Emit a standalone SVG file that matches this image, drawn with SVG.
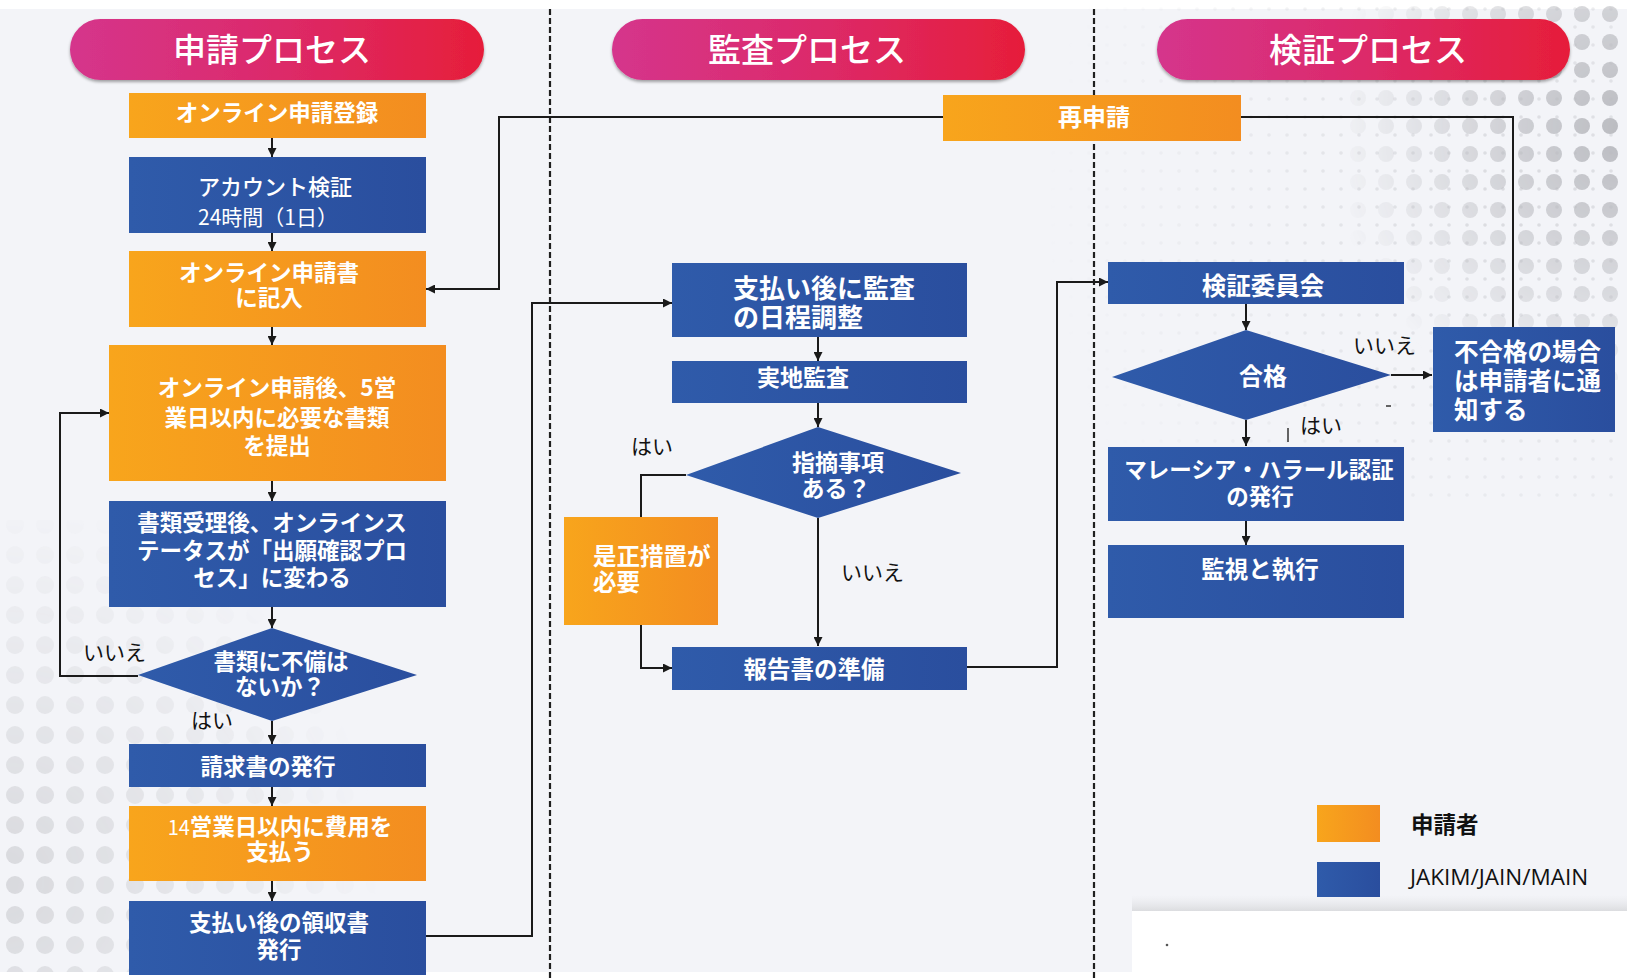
<svg xmlns="http://www.w3.org/2000/svg" width="1627" height="978" viewBox="0 0 1627 978">
<defs>
<style>
.t{font-family:"Noto Sans CJK JP","Noto Sans",sans-serif;fill:#fff;font-weight:700}
.r{font-weight:400}
.md{font-weight:500}
.ttl{font-family:"Noto Sans CJK JP","Noto Sans",sans-serif;fill:#fff;font-weight:500;font-size:33px;text-anchor:middle}
.lbl{font-family:"Noto Sans CJK JP","Noto Sans",sans-serif;fill:#111;font-weight:400;font-size:21px}
.c{stroke:#1a1a1a;stroke-width:2;fill:none}
.m{text-anchor:middle}
.or{fill:url(#gOr)}
.bl{fill:url(#gBl)}
.pill{fill:url(#gPill);filter:url(#sh)}
.div{stroke:#1f1f1f;stroke-width:2.2;stroke-dasharray:6 3;fill:none}
</style>
<linearGradient id="gOr" x1="0" y1="0" x2="1" y2="0"><stop offset="0" stop-color="#F8A51C"/><stop offset="1" stop-color="#F38D20"/></linearGradient>
<linearGradient id="gBl" x1="0" y1="0" x2="1" y2="0"><stop offset="0" stop-color="#2F5BAA"/><stop offset="1" stop-color="#2A4E9E"/></linearGradient>
<linearGradient id="gPill" x1="0" y1="0" x2="1" y2="0"><stop offset="0" stop-color="#D5358C"/><stop offset="0.5" stop-color="#DC2A6A"/><stop offset="1" stop-color="#E61E3A"/></linearGradient>
<filter id="sh" x="-5%" y="-20%" width="110%" height="150%"><feDropShadow dx="0" dy="2" stdDeviation="1.5" flood-color="#000" flood-opacity="0.35"/></filter>
<marker id="ah" viewBox="0 0 10 10" refX="10" refY="5" markerWidth="9" markerHeight="9" markerUnits="userSpaceOnUse" orient="auto"><path d="M0,0 L10,5 L0,10 z" fill="#1a1a1a"/></marker>
<pattern id="dotsBig" width="28" height="28" patternUnits="userSpaceOnUse"><circle cx="14" cy="14" r="8" fill="#b9babf"/></pattern>
<pattern id="dotsSmall" width="18" height="18" patternUnits="userSpaceOnUse"><circle cx="9" cy="9" r="1.8" fill="#c8c9ce"/></pattern>
<pattern id="dotsBL" width="30" height="30" patternUnits="userSpaceOnUse"><circle cx="15" cy="15" r="9" fill="#d3d4d8"/></pattern>
<radialGradient id="fTR" gradientUnits="userSpaceOnUse" cx="1627" cy="130" r="300"><stop offset="0" stop-color="#fff" stop-opacity="1"/><stop offset="1" stop-color="#fff" stop-opacity="0"/></radialGradient>
<radialGradient id="fTR2" gradientUnits="userSpaceOnUse" cx="1520" cy="200" r="480"><stop offset="0" stop-color="#fff" stop-opacity="0.6"/><stop offset="1" stop-color="#fff" stop-opacity="0"/></radialGradient>
<radialGradient id="fBL" gradientUnits="userSpaceOnUse" cx="0" cy="880" r="380"><stop offset="0" stop-color="#fff" stop-opacity="0.85"/><stop offset="1" stop-color="#fff" stop-opacity="0"/></radialGradient>
<mask id="mTR"><rect x="0" y="0" width="1627" height="978" fill="url(#fTR)"/></mask>
<mask id="mTR2"><rect x="0" y="0" width="1627" height="978" fill="url(#fTR2)"/></mask>
<mask id="mBL"><rect x="0" y="0" width="1627" height="978" fill="url(#fBL)"/></mask>
<linearGradient id="gShadow" x1="0" y1="0" x2="0" y2="1"><stop offset="0" stop-color="#e6e7ea" stop-opacity="0"/><stop offset="1" stop-color="#d9dadd" stop-opacity="1"/></linearGradient>
</defs>

<g id="background">
<rect x="0" y="0" width="1627" height="978" fill="#f3f4f8"/>
<rect x="0" y="0" width="1627" height="9" fill="#ffffff"/>
<rect x="1050" y="0" width="577" height="500" fill="url(#dotsSmall)" mask="url(#mTR2)"/>
<rect x="1340" y="0" width="287" height="380" fill="url(#dotsBig)" mask="url(#mTR)"/>
<rect x="0" y="520" width="440" height="458" fill="url(#dotsBL)" mask="url(#mBL)"/>
<rect x="0" y="972" width="1132" height="6" fill="#ffffff"/>
<rect x="1132" y="895" width="495" height="17" fill="url(#gShadow)"/>
<rect x="1132" y="911" width="495" height="67" fill="#ffffff"/>
<circle cx="1167" cy="945" r="1.3" fill="#555"/>
<line class="div" x1="550" y1="9" x2="550" y2="978"/>
<line class="div" x1="1094" y1="9" x2="1094" y2="978"/>
</g>

<g id="headers">
<g id="h1"><rect class="pill" x="70" y="19" width="414" height="61" rx="30.5"/><text class="ttl" x="272" y="62">申請プロセス</text></g>
<g id="h2"><rect class="pill" x="612" y="19" width="413" height="61" rx="30.5"/><text class="ttl" x="807" y="62">監査プロセス</text></g>
<g id="h3"><rect class="pill" x="1157" y="19" width="413" height="61" rx="30.5"/><text class="ttl" x="1368" y="62">検証プロセス</text></g>
</g>

<g id="connectors">
<line class="c" x1="272" y1="138" x2="272" y2="157" marker-end="url(#ah)"/>
<line class="c" x1="272" y1="233" x2="272" y2="251" marker-end="url(#ah)"/>
<line class="c" x1="272" y1="327" x2="272" y2="345" marker-end="url(#ah)"/>
<line class="c" x1="272" y1="481" x2="272" y2="501" marker-end="url(#ah)"/>
<line class="c" x1="272" y1="607" x2="272" y2="628" marker-end="url(#ah)"/>
<line class="c" x1="272" y1="721" x2="272" y2="744" marker-end="url(#ah)"/>
<line class="c" x1="272" y1="787" x2="272" y2="806" marker-end="url(#ah)"/>
<line class="c" x1="272" y1="881" x2="272" y2="901" marker-end="url(#ah)"/>
<polyline class="c" points="138,676 60,676 60,413 109,413" marker-end="url(#ah)"/>
<polyline class="c" points="943,117 499,117 499,289 426,289" marker-end="url(#ah)"/>
<polyline class="c" points="1241,117 1513,117 1513,327"/>
<polyline class="c" points="426,936 532,936 532,303 672,303" marker-end="url(#ah)"/>
<line class="c" x1="818" y1="337" x2="818" y2="361" marker-end="url(#ah)"/>
<line class="c" x1="818" y1="403" x2="818" y2="427" marker-end="url(#ah)"/>
<polyline class="c" points="686,475 641,475 641,517"/>
<polyline class="c" points="641,625 641,668 672,668" marker-end="url(#ah)"/>
<line class="c" x1="818" y1="518" x2="818" y2="646" marker-end="url(#ah)"/>
<polyline class="c" points="967,667 1057,667 1057,282 1108,282" marker-end="url(#ah)"/>
<line class="c" x1="1246" y1="304" x2="1246" y2="330" marker-end="url(#ah)"/>
<line class="c" x1="1391" y1="375" x2="1432" y2="375" marker-end="url(#ah)"/>
<line class="c" x1="1246" y1="420" x2="1246" y2="446" marker-end="url(#ah)"/>
<line class="c" x1="1246" y1="521" x2="1246" y2="545" marker-end="url(#ah)"/>
<line x1="1386" y1="406" x2="1391" y2="406" stroke="#333" stroke-width="1.5"/>
<line x1="1288" y1="428" x2="1288" y2="442" stroke="#333" stroke-width="1.5"/>
</g>

<g id="labels">
<text class="lbl" x="83" y="660">いいえ</text>
<text class="lbl" x="191" y="728">はい</text>
<text class="lbl" x="631" y="454">はい</text>
<text class="lbl" x="841" y="580">いいえ</text>
<text class="lbl" x="1353" y="353">いいえ</text>
<text class="lbl" x="1300" y="433">はい</text>
</g>

<g id="n_register"><rect class="or" x="129" y="93" width="297" height="45"/><text class="t m" x="277" y="121" font-size="22.5">オンライン申請登録</text></g>
<g id="n_account"><rect class="bl" x="129" y="157" width="297" height="76"/><text class="t md" x="198" y="194.5" font-size="22">アカウント検証<tspan class="r" x="198" dy="30" font-size="21">24時間（1日）</tspan></text></g>
<g id="n_fill"><rect class="or" x="129" y="251" width="297" height="76"/><text class="t m" x="269" y="281" font-size="22.5">オンライン申請書<tspan x="269" dy="25">に記入</tspan></text></g>
<g id="n_submit"><rect class="or" x="109" y="345" width="337" height="136"/><text class="t m" x="277" y="396" font-size="22.5">オンライン申請後、5営<tspan x="277" dy="30">業日以内に必要な書類</tspan><tspan x="277" dy="28">を提出</tspan></text></g>
<g id="n_status"><rect class="bl" x="109" y="501" width="337" height="106"/><text class="t m" x="272" y="531" font-size="22.5">書類受理後、オンラインス<tspan x="272" dy="28">テータスが「出願確認プロ</tspan><tspan x="272" dy="27">セス」に変わる</tspan></text></g>
<g id="n_check"><polygon class="bl" points="272,628 417,675 272,721 138,675"/><text class="t m" x="281" y="670" font-size="22.5">書類に不備は<tspan x="280" dy="25">ないか？</tspan></text></g>
<g id="n_invoice"><rect class="bl" x="129" y="744" width="297" height="43"/><text class="t m" x="268" y="775" font-size="22.5">請求書の発行</text></g>
<g id="n_pay"><rect class="or" x="129" y="806" width="297" height="75"/><text class="t m" x="280" y="835" font-size="22.5"><tspan class="r" font-size="20">14</tspan>営業日以内に費用を<tspan x="280" dy="25">支払う</tspan></text></g>
<g id="n_receipt"><rect class="bl" x="129" y="901" width="297" height="74"/><text class="t m" x="279" y="931" font-size="22.5">支払い後の領収書<tspan x="279" dy="27">発行</tspan></text></g>

<g id="n_reapply"><rect class="or" x="943" y="95" width="298" height="46"/><text class="t m" x="1094" y="125.5" font-size="24">再申請</text></g>
<g id="n_schedule"><rect class="bl" x="672" y="263" width="295" height="74"/><text class="t" x="733" y="297.5" font-size="26">支払い後に監査<tspan x="733" dy="29.5">の日程調整</tspan></text></g>
<g id="n_onsite"><rect class="bl" x="672" y="361" width="295" height="42"/><text class="t m" x="803" y="386" font-size="23">実地監査</text></g>
<g id="n_findings"><polygon class="bl" points="818,427 961,473 818,518 686,475"/><text class="t m" x="838" y="471" font-size="23">指摘事項<tspan x="836" dy="26">ある？</tspan></text></g>
<g id="n_corrective"><rect class="or" x="564" y="517" width="154" height="108"/><text class="t" x="593" y="565" font-size="23.5">是正措置が<tspan x="593" dy="26">必要</tspan></text></g>
<g id="n_report"><rect class="bl" x="672" y="647" width="295" height="43"/><text class="t m" x="814" y="678" font-size="23.5">報告書の準備</text></g>

<g id="n_committee"><rect class="bl" x="1108" y="262" width="296" height="42"/><text class="t m" x="1263" y="295" font-size="24.5">検証委員会</text></g>
<g id="n_pass"><polygon class="bl" points="1246,330 1391,375 1246,420 1112,377"/><text class="t m" x="1263" y="385" font-size="24">合格</text></g>
<g id="n_notify"><rect class="bl" x="1433" y="327" width="182" height="105"/><text class="t" x="1454" y="361" font-size="24.5">不合格の場合<tspan x="1454" dy="29">は申請者に通</tspan><tspan x="1454" dy="28.5">知する</tspan></text></g>
<g id="n_cert"><rect class="bl" x="1108" y="447" width="296" height="74"/><text class="t m" x="1259" y="478" font-size="22.5">マレーシア・ハラール認証<tspan x="1260" dy="27">の発行</tspan></text></g>
<g id="n_monitor"><rect class="bl" x="1108" y="545" width="296" height="73"/><text class="t m" x="1260" y="578" font-size="23.5">監視と執行</text></g>

<g id="legend">
<rect class="or" x="1317" y="805" width="63" height="37"/>
<text x="1411" y="833" font-family="Noto Sans CJK JP, Noto Sans, sans-serif" font-weight="700" font-size="22.5" fill="#111">申請者</text>
<rect class="bl" x="1317" y="862" width="63" height="35"/>
<text x="1410" y="885" font-family="Open Sans, Liberation Sans, sans-serif" font-size="22.5" fill="#111">JAKIM/JAIN/MAIN</text>
</g>
</svg>
